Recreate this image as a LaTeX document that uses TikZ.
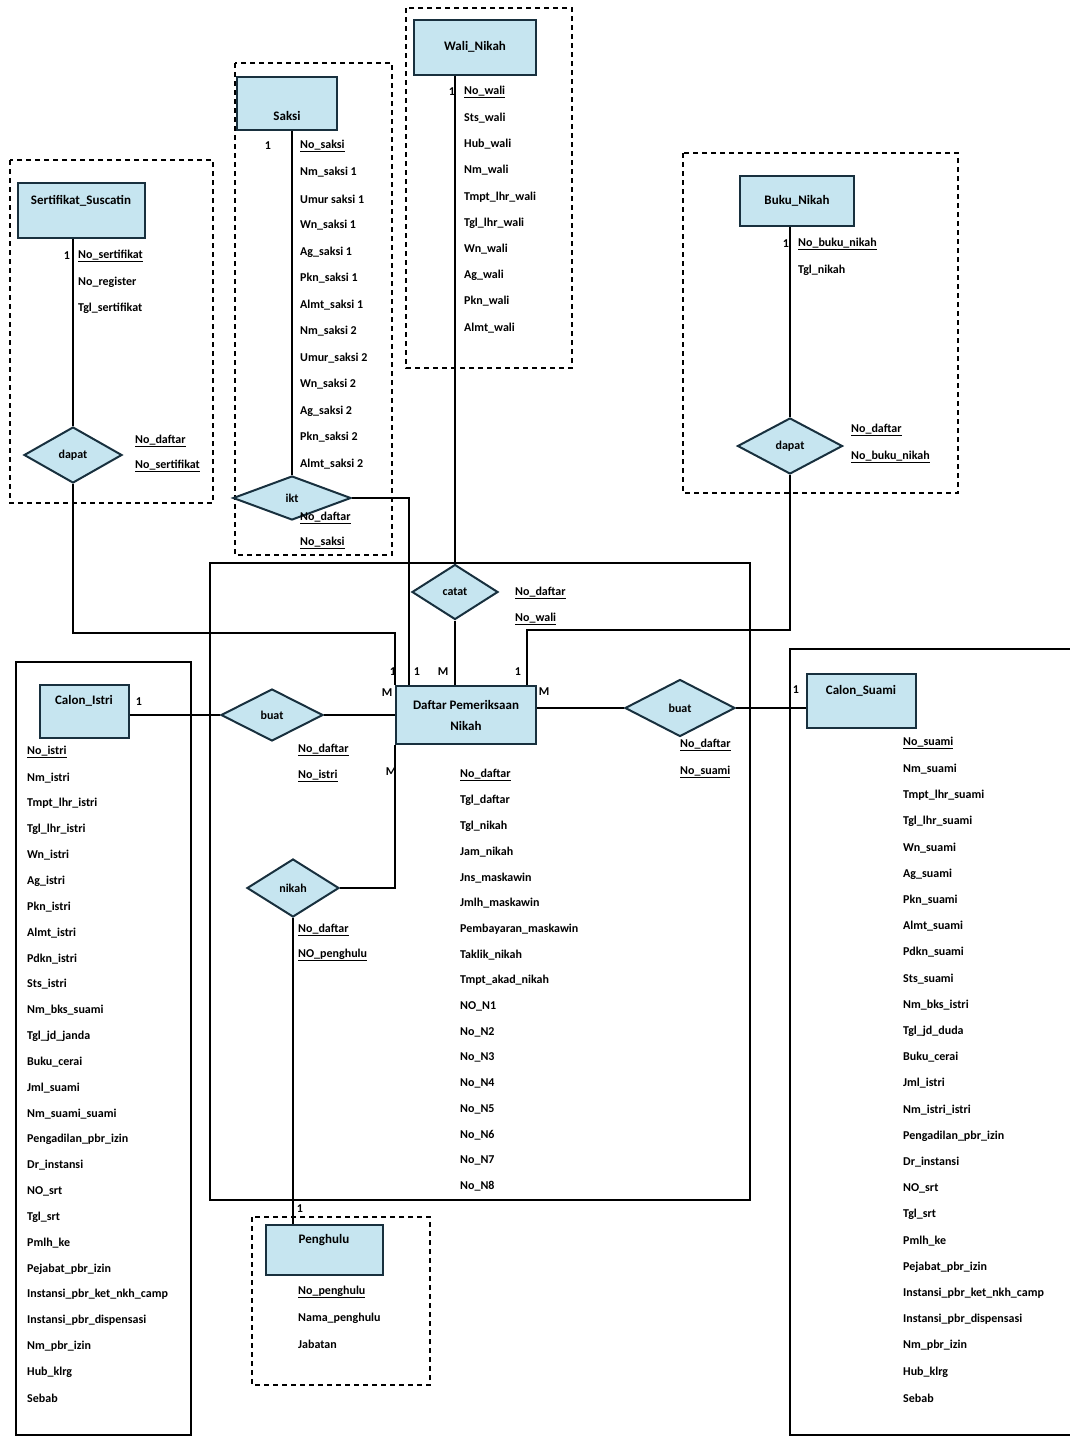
\documentclass[tikz,border=0pt]{standalone}
\usepackage{fontspec}
\setmainfont{Carlito}
\usetikzlibrary{shapes.geometric,positioning,calc}

\definecolor{boxfill}{RGB}{198,229,240}
\definecolor{boxline}{RGB}{24,48,62}
\newcommand{\erfont}{\fontsize{12}{15}\selectfont\bfseries}

\begin{document}
\begin{tikzpicture}[x=1pt,y=-1pt,
    every node/.style={font=\erfont},
    entity/.style={draw=boxline, fill=boxfill, line width=2pt, inner sep=0pt, font=\fontsize{13}{15}\selectfont\bfseries},
    rel/.style={diamond, draw=boxline, fill=boxfill, line width=2pt, inner sep=0pt},
    attr/.style={anchor=west, inner sep=0pt},
    card/.style={inner sep=0pt},
    grp/.style={draw, line width=1.4pt},
    dgrp/.style={grp, dash pattern=on 5pt off 4pt},
    conn/.style={line width=1.3pt}]
\useasboundingbox (0,0) rectangle (1070,1438);

% group frames
\draw[dgrp] (10,160) rectangle (213,503);
\draw[dgrp] (235,63) rectangle (392,555);
\draw[dgrp] (406,8) rectangle (572,368);
\draw[dgrp] (683,153) rectangle (958,493);
\draw[dgrp] (252,1217) rectangle (430,1385);
\draw[grp] (210,563) rectangle (750,1200);
\draw[grp] (16,662) rectangle (191,1435);
\draw[grp] (1070,649) -- (790,649) -- (790,1435) -- (1070,1435);

% entities
\node[entity, minimum width=127pt, minimum height=55pt, text depth=20pt] (sertifikat) at (81,210) {Sertifikat\_Suscatin};
\node[entity, minimum width=100pt, minimum height=53pt, text height=36pt] (saksi) at (287,103) {Saksi};
\node[entity, minimum width=122pt, minimum height=55pt] (wali) at (475,47) {Wali\_Nikah};
\node[entity, minimum width=114pt, minimum height=50pt] (buku) at (797,201) {Buku\_Nikah};
\node[entity, minimum width=140pt, minimum height=58pt, align=center] (daftar) at (466,715) {Daftar Pemeriksaan\\[6pt]Nikah};
\node[entity, minimum width=89pt, minimum height=53pt, text depth=22pt] (istri) at (84,711) {Calon\_Istri};
\node[entity, minimum width=109pt, minimum height=54pt, text depth=22pt] (suami) at (861,701) {Calon\_Suami};
\node[entity, minimum width=117pt, minimum height=50pt, text depth=22pt] (penghulu) at (324,1250) {Penghulu};

% relationships
\node[rel, minimum width=98pt, minimum height=56pt] (dapatS) at (73,455) {dapat};
\node[rel, minimum width=118pt, minimum height=44pt] (ikt) at (292,498) {ikt};
\node[rel, minimum width=86pt, minimum height=55pt] (catat) at (455,592) {catat};
\node[rel, minimum width=105pt, minimum height=56pt] (dapatB) at (790,446) {dapat};
\node[rel, minimum width=102pt, minimum height=52pt] (buatI) at (272,715) {buat};
\node[rel, minimum width=110pt, minimum height=57pt] (buatS) at (680,708) {buat};
\node[rel, minimum width=92pt, minimum height=58pt] (nikah) at (293,888) {nikah};

% connectors
\coordinate (bendS) at (73,633);
\coordinate (bendB) at (790,630);
\draw[conn] (sertifikat.south -| dapatS) -- (dapatS.north);
\draw[conn] (dapatS.south) -- (bendS) -| (daftar.north west);
\draw[conn] (saksi.south -| ikt) -- (ikt.north);
\draw[conn] (ikt.east) -| ([xshift=14pt]daftar.north west);
\draw[conn] (wali.south -| catat) -- (catat.north);
\draw[conn] (catat.south) -- (catat.south |- daftar.north);
\draw[conn] (buku.south -| dapatB) -- (dapatB.north);
\draw[conn] (dapatB.south) -- (bendB) -| ([xshift=-10pt]daftar.north east);
\draw[conn] (istri.east |- buatI.west) -- (buatI.west);
\draw[conn] (buatI.east) -- (buatI.east -| daftar.west);
\draw[conn] (daftar.east |- buatS.west) -- (buatS.west);
\draw[conn] (buatS.east) -- (buatS.east -| suami.west);
\draw[conn] (nikah.east) -| (daftar.south west);
\draw[conn] (nikah.south) -- (nikah.south |- penghulu.north);

% cardinalities
\node[card] (cS) at (67,256) {1};
\node[card] (cK) at (268,146) {1};
\node[card] (cW) at (452,92) {1};
\node[card] (cB) at (786,244) {1};
\node[card] (cD1) at (393,672) {1};
\node[card] (cD2) at (417,672) {1};
\node[card] (cD3) at (443,672) {M};
\node[card] (cD4) at (518,672) {1};
\node[card] (cD5) at (387,693) {M};
\node[card] (cD6) at (544,692) {M};
\node[card] (cD7) at (391,772) {M};
\node[card] (cI) at (139,702) {1};
\node[card] (cU) at (796,690) {1};
\node[card] (cP) at (300,1209) {1};

% relationship keys
\node[attr] (kS1) at (135,441) {\underline{No\_daftar}};
\node[attr] (kS2) at (135,466) {\underline{No\_sertifikat}};
\node[attr] (kK1) at (300,518) {\underline{No\_daftar}};
\node[attr] (kK2) at (300,543) {\underline{No\_saksi}};
\node[attr] (kW1) at (515,593) {\underline{No\_daftar}};
\node[attr] (kW2) at (515,619) {\underline{No\_wali}};
\node[attr] (kB1) at (851,430) {\underline{No\_daftar}};
\node[attr] (kB2) at (851,457) {\underline{No\_buku\_nikah}};
\node[attr] (kI1) at (298,750) {\underline{No\_daftar}};
\node[attr] (kI2) at (298,776) {\underline{No\_istri}};
\node[attr] (kU1) at (680,745) {\underline{No\_daftar}};
\node[attr] (kU2) at (680,772) {\underline{No\_suami}};
\node[attr] (kN1) at (298,930) {\underline{No\_daftar}};
\node[attr] (kN2) at (298,955) {\underline{NO\_penghulu}};

% attributes
\node[attr] (aS0) at (78,256) {\underline{No\_sertifikat}};
\node[attr] (aS1) at (78,282) {No\_register};
\node[attr] (aS2) at (78,308) {Tgl\_sertifikat};

\node[attr] (aK0) at (300,146) {\underline{No\_saksi}};
\foreach \t [count=\i] in {Nm\_saksi 1, Umur saksi 1, Wn\_saksi 1, Ag\_saksi 1, Pkn\_saksi 1, Almt\_saksi 1,
    Nm\_saksi 2, Umur\_saksi 2, Wn\_saksi 2, Ag\_saksi 2, Pkn\_saksi 2, Almt\_saksi 2}
  \node[attr] (aK\i) at (300,{146+26.5*\i}) {\t};

\node[attr] (aW0) at (464,92) {\underline{No\_wali}};
\foreach \t [count=\i] in {Sts\_wali, Hub\_wali, Nm\_wali, Tmpt\_lhr\_wali, Tgl\_lhr\_wali,
    Wn\_wali, Ag\_wali, Pkn\_wali, Almt\_wali}
  \node[attr] (aW\i) at (464,{92+26.2*\i}) {\t};

\node[attr] (aB0) at (798,244) {\underline{No\_buku\_nikah}};
\node[attr] (aB1) at (798,270) {Tgl\_nikah};

\node[attr] (aD0) at (460,775) {\underline{No\_daftar}};
\foreach \t [count=\i] in {Tgl\_daftar, Tgl\_nikah, Jam\_nikah, Jns\_maskawin, Jmlh\_maskawin,
    Pembayaran\_maskawin, Taklik\_nikah, Tmpt\_akad\_nikah, NO\_N1, No\_N2, No\_N3, No\_N4,
    No\_N5, No\_N6, No\_N7, No\_N8}
  \node[attr] (aD\i) at (460,{775+25.7*\i}) {\t};

\node[attr] (aI0) at (27,752) {\underline{No\_istri}};
\foreach \t [count=\i] in {Nm\_istri, Tmpt\_lhr\_istri, Tgl\_lhr\_istri, Wn\_istri, Ag\_istri,
    Pkn\_istri, Almt\_istri, Pdkn\_istri, Sts\_istri, Nm\_bks\_suami, Tgl\_jd\_janda, Buku\_cerai,
    Jml\_suami, Nm\_suami\_suami, Pengadilan\_pbr\_izin, Dr\_instansi, NO\_srt, Tgl\_srt, Pmlh\_ke,
    Pejabat\_pbr\_izin, Instansi\_pbr\_ket\_nkh\_camp, Instansi\_pbr\_dispensasi, Nm\_pbr\_izin,
    Hub\_klrg, Sebab}
  \node[attr] (aI\i) at (27,{752+25.84*\i}) {\t};

\node[attr] (aU0) at (903,743) {\underline{No\_suami}};
\foreach \t [count=\i] in {Nm\_suami, Tmpt\_lhr\_suami, Tgl\_lhr\_suami, Wn\_suami, Ag\_suami,
    Pkn\_suami, Almt\_suami, Pdkn\_suami, Sts\_suami, Nm\_bks\_istri, Tgl\_jd\_duda, Buku\_cerai,
    Jml\_istri, Nm\_istri\_istri, Pengadilan\_pbr\_izin, Dr\_instansi, NO\_srt, Tgl\_srt, Pmlh\_ke,
    Pejabat\_pbr\_izin, Instansi\_pbr\_ket\_nkh\_camp, Instansi\_pbr\_dispensasi, Nm\_pbr\_izin,
    Hub\_klrg, Sebab}
  \node[attr] (aU\i) at (903,{743+26.2*\i}) {\t};

\node[attr] (aP0) at (298,1292) {\underline{No\_penghulu}};
\node[attr] (aP1) at (298,1318) {Nama\_penghulu};
\node[attr] (aP2) at (298,1344) {Jabatan};
\end{tikzpicture}
\end{document}
